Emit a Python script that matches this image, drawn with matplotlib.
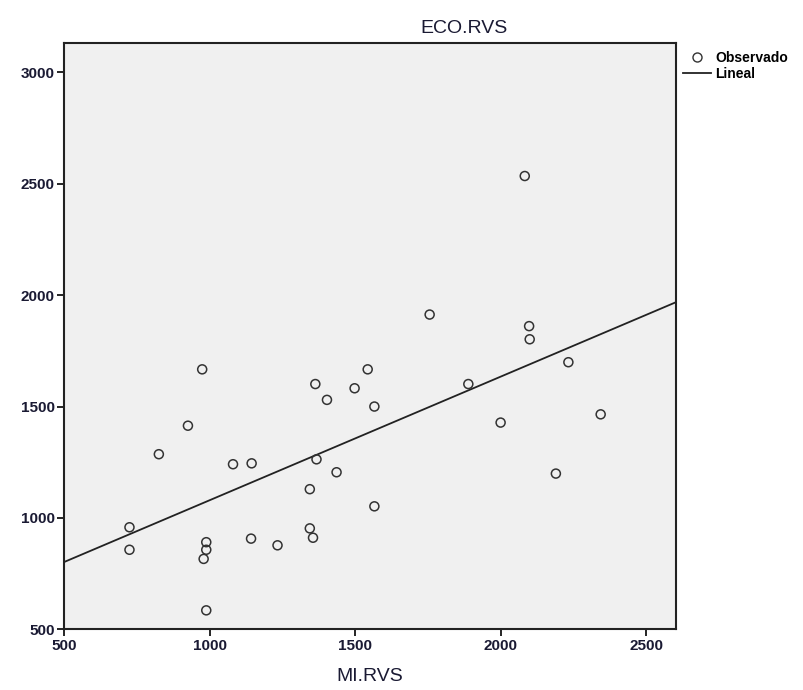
import numpy as np
import matplotlib.pyplot as plt
from matplotlib.lines import Line2D

# MI.RVS (x) and ECO.RVS (y)
mi_rvs = [724, 724, 825, 925, 988, 988, 979, 988, 1080, 1144, 1142, 1233,
          1367, 1344, 1436, 1344, 1355, 1566, 1566, 2083, 1756, 2098, 2100,
          2233, 1889, 2000, 2344, 2190, 974, 1363, 1403, 1498, 1543]
eco_rvs = [958, 857, 1286, 1414, 891, 857, 816, 585, 1241, 1245, 907, 877,
           1263, 1129, 1205, 953, 911, 1500, 1052, 2535, 1913, 1861, 1802,
           1699, 1601, 1428, 1465, 1199, 1667, 1601, 1530, 1582, 1667]

xticks = [500, 1000, 1500, 2000, 2500]
yticks = [500, 1000, 1500, 2000, 2500, 3000]

plt.rcParams['font.family'] = ['Liberation Sans', 'DejaVu Sans']

fig = plt.figure(figsize=(8.04, 6.9), dpi=100, facecolor='white')
ax = fig.add_axes([0.080, 0.088, 0.7608, 0.8493])
ax.set_facecolor('#f0f0f0')

ax.scatter(mi_rvs, eco_rvs, s=42, facecolors='none', edgecolors='#333333',
           linewidths=1.1, zorder=3)

# linear fit
b, a = np.polyfit(mi_rvs, eco_rvs, 1)
xs = np.array([500, 2603])
ax.plot(xs, a + b * xs, color='#222222', lw=1.3, zorder=2)

ax.set_xlim(500, 2603)
ax.set_ylim(500, 3131)
ax.set_xticks(xticks)
ax.set_yticks(yticks)
ax.tick_params(direction='out', length=5, width=1.2, color='black',
               labelsize=11, labelcolor='#1a1a33', pad=2)
for lab in ax.get_xticklabels() + ax.get_yticklabels():
    lab.set_fontweight('bold')
for sp in ax.spines.values():
    sp.set_linewidth(1.5)
    sp.set_color('#222222')

ax.set_xlabel('MI.RVS', fontsize=14, labelpad=11, color='#1a1a33')
fig.text(0.577, 0.958, 'ECO.RVS', fontsize=14, ha='center', va='center',
         color='#1a1a33')

handles = [Line2D([], [], marker='o', ls='none', markerfacecolor='none',
                  markeredgecolor='#333333', markersize=6.5),
           Line2D([], [], color='#222222', lw=1.3)]
fig.legend(handles, ['Observado', 'Lineal'], loc='upper left',
           bbox_to_anchor=(0.843, 0.934), frameon=False, handlelength=2.0,
           handletextpad=0.3, labelspacing=0.15, borderaxespad=0,
           prop={'weight': 'bold', 'size': 10})

plt.savefig('out.png', dpi=100)
